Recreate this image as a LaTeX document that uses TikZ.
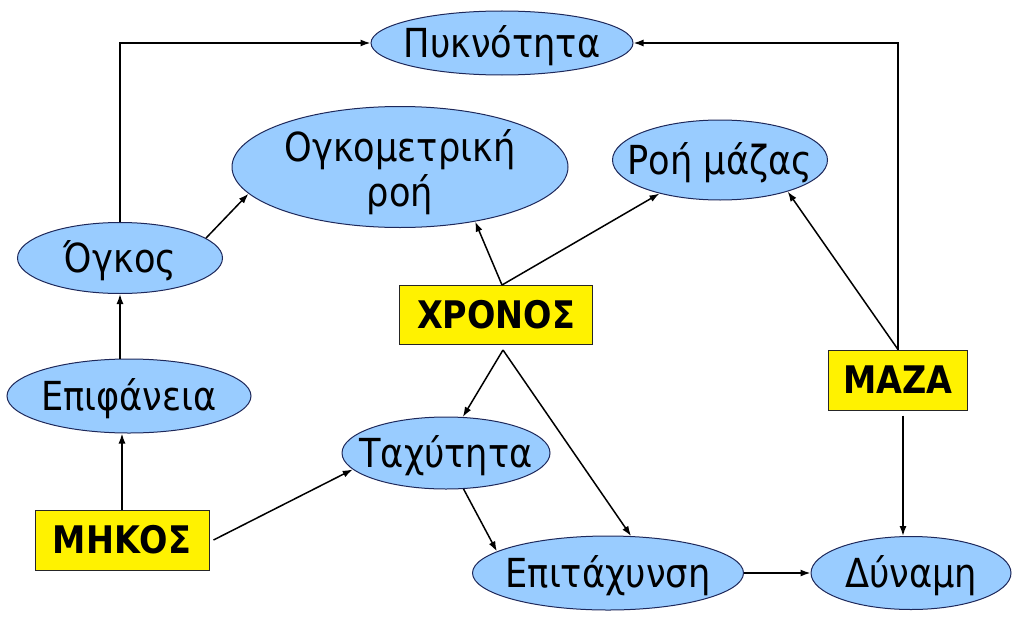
\documentclass[tikz,border=0pt]{standalone}
\usepackage{fontspec}
\setmainfont[FakeStretch=0.88]{DejaVu Sans}
\usetikzlibrary{shapes.geometric,arrows.meta}
\definecolor{ellfill}{RGB}{153,204,255}
\definecolor{elldraw}{RGB}{30,40,90}
\begin{document}
\begin{tikzpicture}[x=1pt,y=-1pt,
  ell/.style={ellipse, draw=elldraw, line width=1pt, fill=ellfill, inner sep=0pt,
    font=\fontsize{40}{45}\selectfont, text height=29pt, text depth=0pt},
  ybox/.style={rectangle, draw=black!85, line width=1pt, fill=yellow, inner sep=0pt,
    font=\bfseries\fontsize{38}{42}\selectfont, text height=27pt, text depth=0pt},
  lab/.style={font=\fontsize{40}{45}\selectfont, align=center, inner sep=0pt},
  arr/.style={-{Latex[length=10pt,width=7pt]}, line width=1.5pt}]
\useasboundingbox (0,0) rectangle (1024,618);

% ellipses
\node[ell, minimum width=262, minimum height=64] (pykn) at (502,43) {\makebox[0pt]{Πυκνότητα}};
\node[ell, minimum width=336, minimum height=121,
      label={[lab, yshift=-5pt]center:Ογκομετρική\\ροή}] (ogko) at (400,167) {};
\node[ell, minimum width=215, minimum height=80] (roh) at (720,160) {\makebox[0pt]{Ροή μάζας}};
\node[ell, minimum width=205, minimum height=71] (ogkos) at (120,258) {\makebox[0pt]{Όγκος}};
\node[ell, minimum width=244, minimum height=74] (epif) at (129,396) {\makebox[0pt]{Επιφάνεια}};
\node[ell, minimum width=208, minimum height=72] (tax) at (446,453) {\makebox[0pt]{Ταχύτητα}};
\node[ell, minimum width=271, minimum height=74] (epit) at (608,573) {\makebox[0pt]{Επιτάχυνση}};
\node[ell, minimum width=200, minimum height=73] (dyn) at (911,573) {\makebox[0pt]{Δύναμη}};

% yellow boxes
\node[ybox, minimum width=193, minimum height=59] (xronos) at (496,315) {ΧΡΟΝΟΣ};
\node[ybox, minimum width=139, minimum height=60] (maza) at (898,380) {ΜΑΖΑ};
\node[ybox, minimum width=174, minimum height=60] (mhkos) at (122,540) {ΜΗΚΟΣ};

% connectors
\draw[arr] (ogkos.north) |- (pykn.west);
\draw[arr] (maza.north) |- (pykn.east);
\draw[arr] (ogkos.13) -- (ogko.190);
\coordinate (xt) at ([xshift=6pt]xronos.north);
\draw[arr] (xt) -- (ogko.-36);
\draw[arr] (xt) -- (roh.209);
\draw[arr] (maza.north) -- (roh.-25);
\draw[arr] (ogkos.south |- epif.north) -- (ogkos.south);
\draw[arr] (mhkos.north) -- (mhkos.north |- epif.south);
\draw[arr] ([xshift=4pt]mhkos.east) -- (tax.190);
\coordinate (xb) at ([xshift=7pt,yshift=-5pt]xronos.south);
\draw[arr] (xb) -- (tax.65);
\draw[arr] (xb) -- (epit.58);
\draw[arr] (tax.-64) -- (epit.169);
\draw[arr] (epit.east) -- (dyn.west);
\coordinate (mb) at ([xshift=5pt,yshift=-5pt]maza.south);
\draw[arr] (mb) -- (mb |- dyn.north);
\end{tikzpicture}
\end{document}
